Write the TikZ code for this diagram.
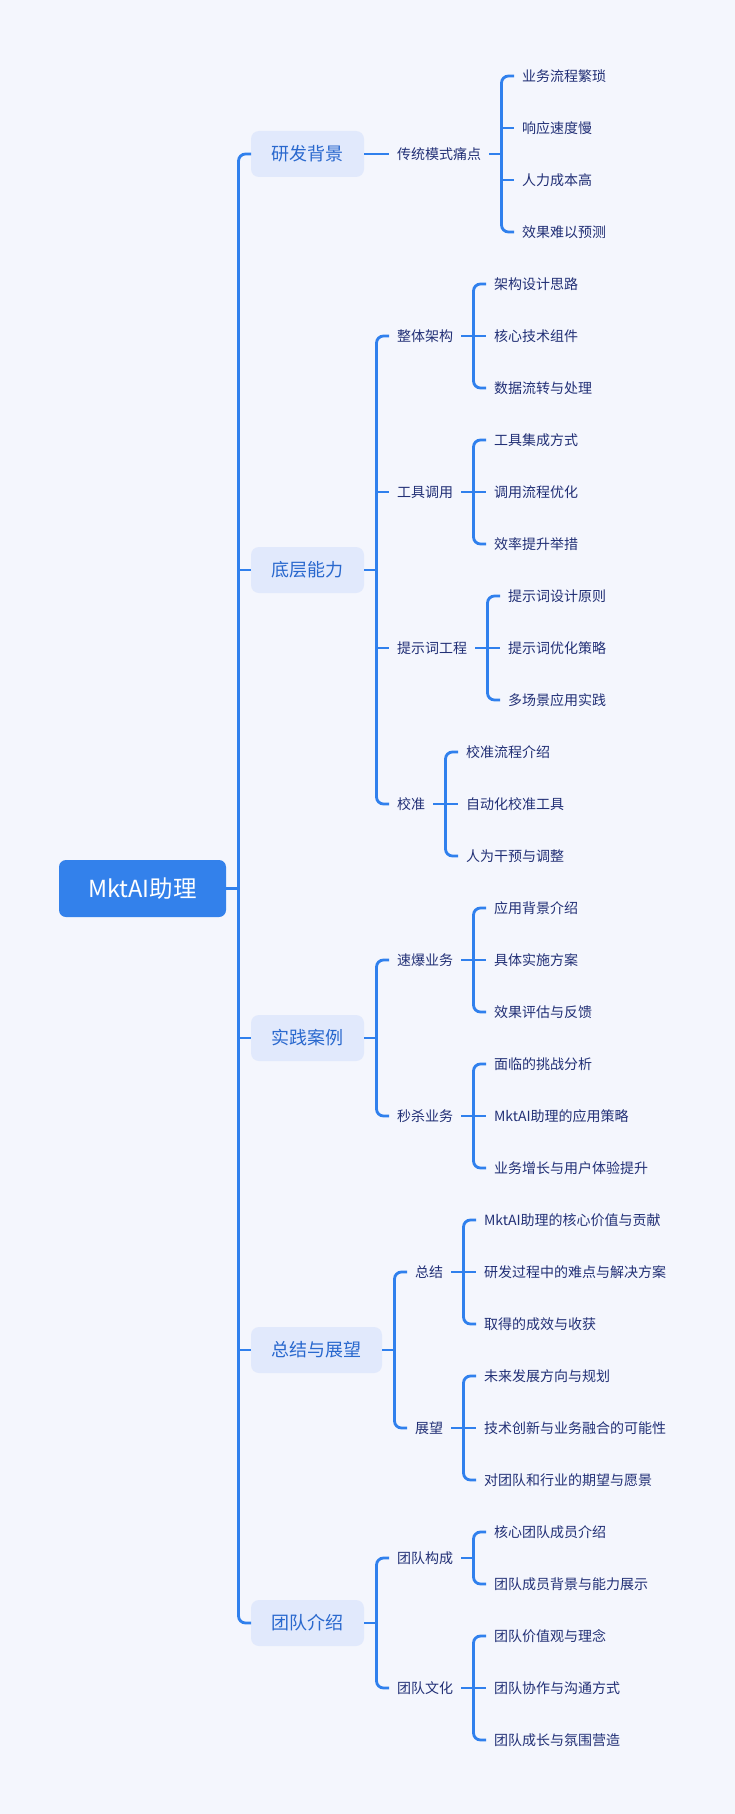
\documentclass[tikz,border=0pt]{standalone}
\usepackage{fontspec}
\newfontfamily\cjk{Noto Sans CJK SC}
\usepackage{tikz}
\usetikzlibrary{positioning}
\definecolor{paper}{RGB}{244,246,253}
\definecolor{rootblue}{RGB}{51,129,235}
\definecolor{topicfill}{RGB}{225,233,252}
\definecolor{topictext}{RGB}{41,104,206}
\definecolor{leaftext}{RGB}{34,48,118}
\definecolor{linkblue}{RGB}{48,128,237}
\tikzset{node distance=25pt,
      root/.style={fill=rootblue, text=white, rounded corners=7pt, outer sep=0pt,
        minimum width=167pt, minimum height=57pt, font=\cjk\fontsize{23.5}{27}\selectfont},
      topic/.style={fill=topicfill, text=topictext, rounded corners=8pt, outer sep=0pt,
        inner xsep=20.5pt, minimum height=46pt, font=\cjk\fontsize{18}{22}\selectfont},
      sub/.style={text=leaftext, inner xsep=0pt, outer xsep=8pt,
        font=\cjk\fontsize{14}{17}\selectfont},
      link/.style={draw=linkblue, line width=2.8pt}}
% parent, top child, bottom child
\newcommand\fork[3]{%
  \draw[link] (#1.east) -- ++(12.5pt,0) coordinate (#1x);
  \draw[link, rounded corners=7pt] (#2.west) -| (#1x) |- (#3.west);}
\newcommand\tick[2]{\draw[link] (#1x |- #2.west) -- (#2.west);}

\begin{document}
\begin{tikzpicture}[x=1pt, y=-1pt]
    \useasboundingbox[fill=paper] (0,0) rectangle (735,1814);

    \node[root, anchor=west] (mk) at (59,888.5) {MktAI助理};

    \node[topic, right=of mk, yshift=734.5pt] (rb) {研发背景};
    \node[topic, right=of mk, yshift=318.5pt] (dc) {底层能力};
    \node[topic, right=of mk, yshift=-149.5pt] (sj) {实践案例};
    \node[topic, right=of mk, yshift=-461.5pt] (zj) {总结与展望};
    \node[topic, right=of mk, yshift=-734.5pt] (td) {团队介绍};

    \node[sub, right=of rb] (rb1) {传统模式痛点};
    \node[sub, right=of dc, yshift=234pt] (dc1) {整体架构};
    \node[sub, right=of dc, yshift=78pt] (dc2) {工具调用};
    \node[sub, right=of dc, yshift=-78pt] (dc3) {提示词工程};
    \node[sub, right=of dc, yshift=-234pt] (dc4) {校准};
    \node[sub, right=of sj, yshift=78pt] (sj1) {速爆业务};
    \node[sub, right=of sj, yshift=-78pt] (sj2) {秒杀业务};
    \node[sub, right=of zj, yshift=78pt] (zj1) {总结};
    \node[sub, right=of zj, yshift=-78pt] (zj2) {展望};
    \node[sub, right=of td, yshift=65pt] (td1) {团队构成};
    \node[sub, right=of td, yshift=-65pt] (td2) {团队文化};

    % leaves
    \node[sub, right=of rb1, yshift=78pt] (rb1a) {业务流程繁琐};
    \node[sub, right=of rb1, yshift=26pt] (rb1b) {响应速度慢};
    \node[sub, right=of rb1, yshift=-26pt] (rb1c) {人力成本高};
    \node[sub, right=of rb1, yshift=-78pt] (rb1d) {效果难以预测};

    \node[sub, right=of dc1, yshift=52pt] (dc1a) {架构设计思路};
    \node[sub, right=of dc1] (dc1b) {核心技术组件};
    \node[sub, right=of dc1, yshift=-52pt] (dc1c) {数据流转与处理};
    \node[sub, right=of dc2, yshift=52pt] (dc2a) {工具集成方式};
    \node[sub, right=of dc2] (dc2b) {调用流程优化};
    \node[sub, right=of dc2, yshift=-52pt] (dc2c) {效率提升举措};
    \node[sub, right=of dc3, yshift=52pt] (dc3a) {提示词设计原则};
    \node[sub, right=of dc3] (dc3b) {提示词优化策略};
    \node[sub, right=of dc3, yshift=-52pt] (dc3c) {多场景应用实践};
    \node[sub, right=of dc4, yshift=52pt] (dc4a) {校准流程介绍};
    \node[sub, right=of dc4] (dc4b) {自动化校准工具};
    \node[sub, right=of dc4, yshift=-52pt] (dc4c) {人为干预与调整};

    \node[sub, right=of sj1, yshift=52pt] (sj1a) {应用背景介绍};
    \node[sub, right=of sj1] (sj1b) {具体实施方案};
    \node[sub, right=of sj1, yshift=-52pt] (sj1c) {效果评估与反馈};
    \node[sub, right=of sj2, yshift=52pt] (sj2a) {面临的挑战分析};
    \node[sub, right=of sj2] (sj2b) {MktAI助理的应用策略};
    \node[sub, right=of sj2, yshift=-52pt] (sj2c) {业务增长与用户体验提升};

    \node[sub, right=of zj1, yshift=52pt] (zj1a) {MktAI助理的核心价值与贡献};
    \node[sub, right=of zj1] (zj1b) {研发过程中的难点与解决方案};
    \node[sub, right=of zj1, yshift=-52pt] (zj1c) {取得的成效与收获};
    \node[sub, right=of zj2, yshift=52pt] (zj2a) {未来发展方向与规划};
    \node[sub, right=of zj2] (zj2b) {技术创新与业务融合的可能性};
    \node[sub, right=of zj2, yshift=-52pt] (zj2c) {对团队和行业的期望与愿景};

    \node[sub, right=of td1, yshift=26pt] (td1a) {核心团队成员介绍};
    \node[sub, right=of td1, yshift=-26pt] (td1b) {团队成员背景与能力展示};
    \node[sub, right=of td2, yshift=52pt] (td2a) {团队价值观与理念};
    \node[sub, right=of td2] (td2b) {团队协作与沟通方式};
    \node[sub, right=of td2, yshift=-52pt] (td2c) {团队成长与氛围营造};

    % connectors
    \fork{mk}{rb}{td} \tick{mk}{dc} \tick{mk}{sj} \tick{mk}{zj}
    \draw[link] (rb.east) -- (rb1.west);
    \fork{rb1}{rb1a}{rb1d} \tick{rb1}{rb1b} \tick{rb1}{rb1c}
    \fork{dc}{dc1}{dc4} \tick{dc}{dc2} \tick{dc}{dc3}
    \fork{dc1}{dc1a}{dc1c} \tick{dc1}{dc1b}
    \fork{dc2}{dc2a}{dc2c} \tick{dc2}{dc2b}
    \fork{dc3}{dc3a}{dc3c} \tick{dc3}{dc3b}
    \fork{dc4}{dc4a}{dc4c} \tick{dc4}{dc4b}
    \fork{sj}{sj1}{sj2}
    \fork{sj1}{sj1a}{sj1c} \tick{sj1}{sj1b}
    \fork{sj2}{sj2a}{sj2c} \tick{sj2}{sj2b}
    \fork{zj}{zj1}{zj2}
    \fork{zj1}{zj1a}{zj1c} \tick{zj1}{zj1b}
    \fork{zj2}{zj2a}{zj2c} \tick{zj2}{zj2b}
    \fork{td}{td1}{td2}
    \fork{td1}{td1a}{td1b}
    \fork{td2}{td2a}{td2c} \tick{td2}{td2b}
\end{tikzpicture}
\end{document}
